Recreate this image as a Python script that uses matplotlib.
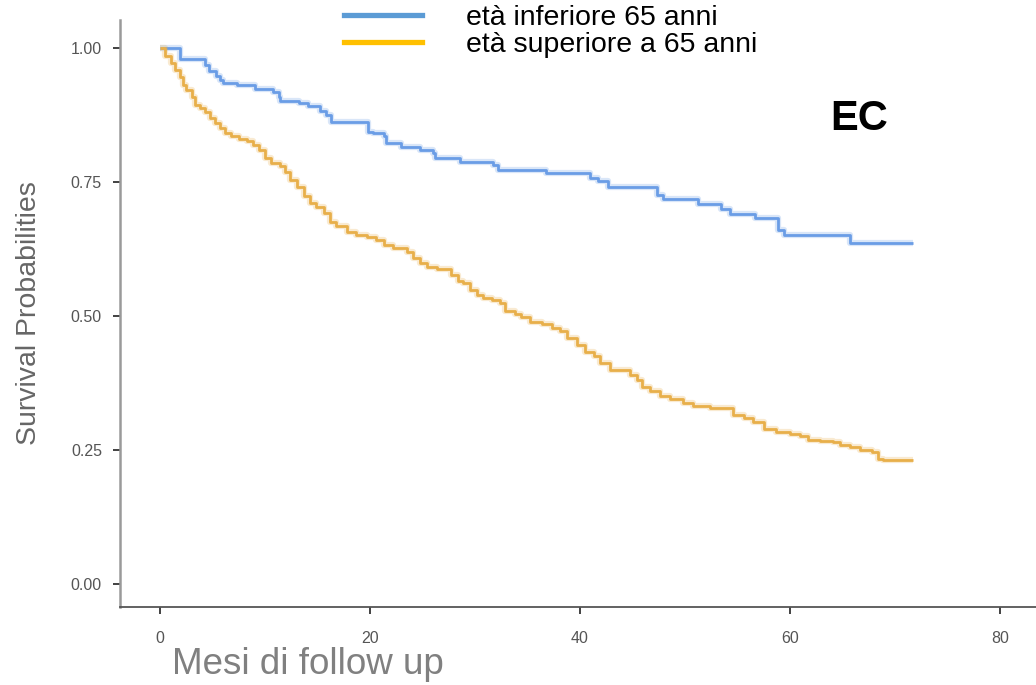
import numpy as np
import matplotlib
matplotlib.use('Agg')
import matplotlib.pyplot as plt
from matplotlib.lines import Line2D

# Kaplan-Meier step points: event time (months) and survival after the drop
under65_time = [0, 1.9, 4.3, 4.7, 5.3, 5.7, 6.0, 7.3, 9.0, 10.8, 11.3, 11.4, 13.2, 14.1,
                15.2, 15.8, 16.3, 19.8, 20.3, 21.3, 21.5, 23.0, 24.8, 26.0, 26.2, 28.6,
                31.7, 32.2, 36.8, 41.0, 41.7, 42.7, 47.3, 47.9, 51.2, 53.4, 54.3, 56.7,
                58.9, 59.4, 65.7]
under65_surv = [1.0, 0.980, 0.968, 0.956, 0.947, 0.940, 0.934, 0.930, 0.923, 0.918, 0.909,
                0.900, 0.897, 0.891, 0.883, 0.875, 0.862, 0.844, 0.841, 0.835, 0.822, 0.816,
                0.810, 0.803, 0.794, 0.788, 0.782, 0.772, 0.766, 0.757, 0.751, 0.740, 0.726,
                0.718, 0.709, 0.699, 0.690, 0.682, 0.660, 0.651, 0.636]

over65_time = [0, 0.5, 1.0, 1.4, 1.9, 2.2, 2.5, 3.0, 3.3, 3.8, 4.3, 4.8, 5.2, 5.7, 6.2, 6.8,
               7.5, 8.3, 8.9, 9.4, 10.0, 10.6, 11.4, 11.9, 12.4, 13.0, 13.7, 14.3, 14.9, 15.6,
               16.2, 16.8, 17.8, 18.7, 19.7, 20.6, 21.3, 22.2, 23.5, 24.1, 24.8, 25.4, 26.4,
               27.7, 28.4, 28.9, 29.5, 30.2, 30.8, 31.6, 32.4, 32.9, 33.8, 34.4, 35.2, 36.4,
               37.3, 38.1, 38.8, 39.7, 40.5, 41.3, 41.9, 42.9, 44.8, 45.4, 45.9, 46.7, 47.6,
               48.6, 49.8, 50.8, 52.4, 54.6, 55.6, 56.5, 57.5, 58.7, 60.0, 61.0, 61.7, 62.9,
               64.1, 64.8, 65.7, 66.7, 67.8, 68.4, 68.9]
over65_surv = [1.0, 0.984, 0.971, 0.959, 0.946, 0.931, 0.922, 0.909, 0.894, 0.887, 0.881,
               0.869, 0.860, 0.850, 0.841, 0.835, 0.830, 0.827, 0.819, 0.810, 0.794, 0.785,
               0.779, 0.769, 0.754, 0.741, 0.723, 0.710, 0.704, 0.692, 0.676, 0.667, 0.657,
               0.651, 0.647, 0.642, 0.632, 0.626, 0.620, 0.608, 0.598, 0.591, 0.587, 0.576,
               0.566, 0.561, 0.549, 0.539, 0.533, 0.529, 0.524, 0.510, 0.503, 0.498, 0.489,
               0.485, 0.478, 0.471, 0.458, 0.446, 0.433, 0.425, 0.412, 0.400, 0.390, 0.381,
               0.367, 0.359, 0.350, 0.345, 0.338, 0.332, 0.328, 0.315, 0.309, 0.303, 0.289,
               0.284, 0.280, 0.276, 0.269, 0.267, 0.264, 0.259, 0.256, 0.250, 0.247, 0.234,
               0.231]

follow_up_end = 71.7

group_labels = ['età inferiore 65 anni', 'età superiore a 65 anni']
line_colors = ['#6a9de6', '#e8af4a']
legend_colors = ['#5b9bd5', '#ffc000']
x_ticks = [0, 20, 40, 60, 80]
y_ticks = [0.0, 0.25, 0.5, 0.75, 1.0]

TICK_FONT = ['Liberation Sans Narrow', 'Liberation Sans', 'DejaVu Sans']
TEXT_FONT = ['Liberation Sans', 'DejaVu Sans']


def km_step(ax, times, surv, color):
    t = list(times) + [follow_up_end]
    s = list(surv) + [surv[-1]]
    ax.plot(t, s, drawstyle='steps-post', color=color, lw=4.5, alpha=0.25,
            solid_capstyle='butt')
    ax.plot(t, s, drawstyle='steps-post', color=color, lw=2.0, solid_capstyle='butt')


def main():
    fig = plt.figure(figsize=(10.36, 6.85), dpi=100)
    ax = fig.add_axes([120 / 1036, 78 / 685, 916 / 1036, 587 / 685])

    km_step(ax, under65_time, under65_surv, line_colors[0])
    km_step(ax, over65_time, over65_surv, line_colors[1])

    ax.set_xlim(-3.81, 83.43)
    ax.set_ylim(-0.043, 1.052)
    ax.set_xticks(x_ticks)
    ax.set_xticklabels([str(v) for v in x_ticks])
    ax.set_yticks(y_ticks)
    ax.set_yticklabels([f'{v:.2f}' for v in y_ticks])
    for lab in ax.get_xticklabels() + ax.get_yticklabels():
        lab.set_family(TICK_FONT)
        lab.set_fontsize(11.5)
        lab.set_color('#555555')
    ax.tick_params(axis='both', length=5, width=1.3, color='#333333')
    ax.tick_params(axis='x', pad=12)
    ax.tick_params(axis='y', pad=8)

    for side in ['top', 'right']:
        ax.spines[side].set_visible(False)
    ax.spines['left'].set_color('#9a9a9a')
    ax.spines['left'].set_linewidth(1.8)
    ax.spines['bottom'].set_color('#555555')
    ax.spines['bottom'].set_linewidth(1.3)

    ax.set_ylabel('Survival Probabilities', family=TEXT_FONT, fontsize=20.5,
                  color='#666666', labelpad=21)
    fig.text(172 / 1036, 1 - 665 / 685, 'Mesi di follow up', family=TEXT_FONT,
             fontsize=26.5, color='#808080', ha='left', va='center')

    ax.text(0.807, 0.832, 'EC', transform=ax.transAxes, family=TEXT_FONT,
            fontsize=30, fontweight='bold', color='black', ha='center', va='center')

    handles = [Line2D([], [], color=c, lw=3.8) for c in legend_colors]
    fig.legend(handles, group_labels, loc='upper left',
               bbox_to_anchor=(344 / 1036, 1 - 5 / 685), frameon=False,
               prop={'family': TEXT_FONT, 'size': 20.5},
               handlelength=2.75, handletextpad=1.55, labelspacing=0.05,
               borderaxespad=0, borderpad=0.0)

    fig.savefig('out.png', dpi=100, facecolor='white')


if __name__ == '__main__':
    main()
